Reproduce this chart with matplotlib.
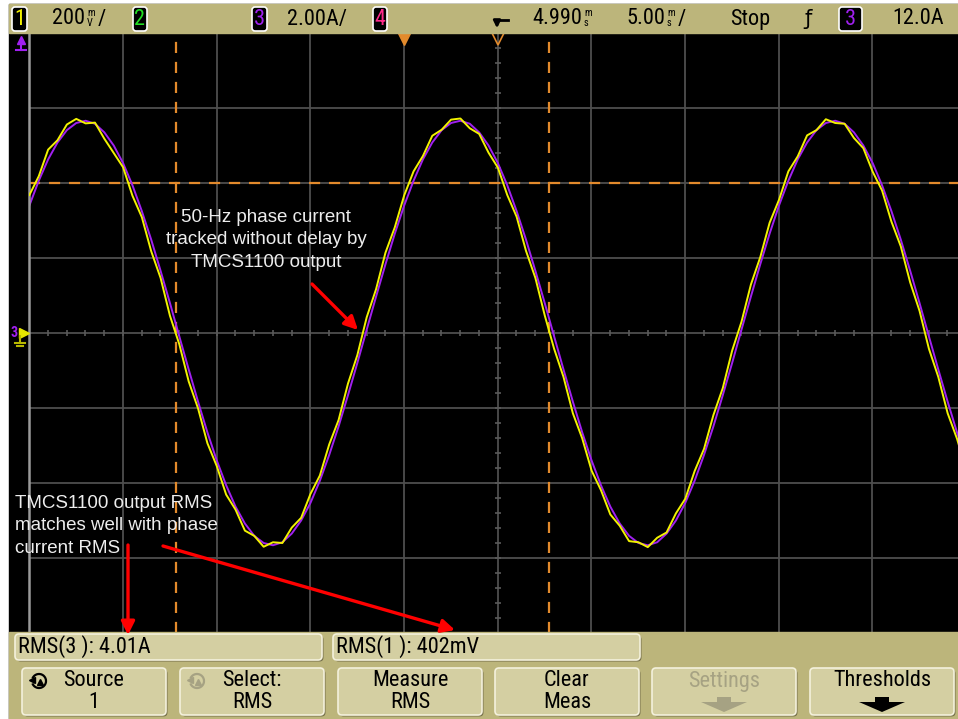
import matplotlib.pyplot as plt
import matplotlib.patches as mpatches
import numpy as np

# scope settings
time_per_div = 5.0      # ms/div
delay = 4.990           # ms at screen centre
ch3_scale = 2.0         # A/div
ch1_scale = 200.0       # mV/div
trig_level = 4.0        # A (orange dashed line)
cursor_times = [-12.18, 7.73]   # ms, orange dashed verticals

# samples every 0.5 ms from -20 ms to 30 ms
t_ms = np.arange(101) * 0.5 - 20.0

# ch3 : phase current (A), purple
ch3_amps = [3.40, 4.06, 4.63, 5.08, 5.41, 5.60, 5.66, 5.58, 5.35, 5.00,
            4.53, 3.94, 3.25, 2.49, 1.66, 0.80, -0.09, -0.97, -1.83, -2.65,
            -3.40, -4.06, -4.63, -5.08, -5.41, -5.60, -5.66, -5.58, -5.35, -5.00,
            -4.53, -3.94, -3.25, -2.49, -1.66, -0.80, 0.09, 0.97, 1.83, 2.65,
            3.40, 4.06, 4.63, 5.08, 5.41, 5.60, 5.66, 5.58, 5.35, 5.00,
            4.53, 3.94, 3.25, 2.49, 1.66, 0.80, -0.09, -0.97, -1.83, -2.65,
            -3.40, -4.06, -4.63, -5.08, -5.41, -5.60, -5.66, -5.58, -5.35, -5.00,
            -4.53, -3.94, -3.25, -2.49, -1.66, -0.80, 0.09, 0.97, 1.83, 2.65,
            3.40, 4.06, 4.63, 5.08, 5.41, 5.60, 5.66, 5.58, 5.35, 5.00,
            4.53, 3.94, 3.25, 2.49, 1.66, 0.80, -0.09, -0.97, -1.83, -2.65,
            -3.40]

# ch1 : TMCS1100 output (mV), yellow, noisy
ch1_mv = [368, 418, 489, 514, 556, 571, 559, 561, 518, 480,
          442, 366, 309, 218, 147, 46, -30, -129, -201, -294,
          -355, -431, -471, -527, -541, -570, -558, -560, -519, -493,
          -429, -380, -297, -232, -135, -59, 42, 117, 214, 282,
          367, 431, 472, 526, 542, 569, 572, 546, 531, 481,
          441, 368, 310, 219, 147, 47, -42, -117, -214, -281,
          -367, -419, -484, -514, -555, -558, -571, -546, -532, -481,
          -442, -368, -309, -219, -147, -47, 30, 129, 202, 294,
          355, 431, 471, 527, 541, 570, 560, 558, 520, 493,
          430, 380, 297, 231, 135, 59, -42, -117, -214, -282,
          -367]

top_labels = ["200", "2.00A/", "4.990", "5.00", "Stop", "12.0A"]
rms_labels = ["RMS(3 ): 4.01A", "RMS(1 ): 402mV"]
buttons = [("Source", "1"), ("Select:", "RMS"), ("Measure", "RMS"),
           ("Clear", "Meas"), ("Settings", ""), ("Thresholds", "")]

narrow = ['Roboto Condensed', 'Liberation Sans Narrow', 'Roboto', 'DejaVu Sans']
arial = ['Liberation Sans', 'DejaVu Sans']
fs = 16

W, H = 958, 719
fig = plt.figure(figsize=(W / 100, H / 100), dpi=100)
fig.patch.set_facecolor('white')

# background (pixel coords)
bg = fig.add_axes([0, 0, 1, 1], zorder=0)
bg.set_xlim(0, W); bg.set_ylim(H, 0); bg.axis('off')
bg.add_patch(mpatches.Rectangle((9, 4), W - 9, H - 4, color='black'))

# scope screen
gx0, gx1, gy0, gy1 = 29.2, 966.2, 33, 633
ax = fig.add_axes([gx0 / W, 1 - gy1 / H, (gx1 - gx0) / W, (gy1 - gy0) / H], zorder=1)
ax.set_facecolor('black')
ax.set_xlim(delay - 5 * time_per_div, delay + 5 * time_per_div)
ax.set_ylim(-4 * ch3_scale, 4 * ch3_scale)
ax.set_xticks(delay + time_per_div * np.arange(-5, 6))
ax.set_yticks(ch3_scale * np.arange(-4, 5))
ax.grid(True, color='#4e4e4e', lw=1.3)
ax.tick_params(length=0, labelbottom=False, labelleft=False)
for s in ['top', 'right', 'bottom']:
    ax.spines[s].set_visible(False)
ax.spines['left'].set_color('#9a9a9a')
ax.spines['left'].set_linewidth(1.8)

# minor ticks on the centre lines
mt = delay + np.arange(-25, 25.01, 1.0)
ax.plot(mt, np.zeros_like(mt), ls='none', marker='|', ms=5, color='#5a5a5a', mew=1.2)
mv = np.arange(-8, 8.01, 0.4)
ax.plot(np.full_like(mv, delay), mv, ls='none', marker='_', ms=5, color='#5a5a5a', mew=1.2)

orange = '#E38A2C'
ax.axhline(trig_level, color=orange, lw=1.6, dashes=(5, 4))
for ct in cursor_times:
    ax.axvline(ct, color=orange, lw=1.6, dashes=(5, 4))

ax.plot(t_ms, ch3_amps, color='#A020F0', lw=1.4)

ax2 = ax.twinx()
ax2.set_ylim(-4 * ch1_scale, 4 * ch1_scale)
ax2.patch.set_alpha(0)
ax2.axis('off')
ax2.plot(t_ms, ch1_mv, color='#F2F200', lw=1.4)

# top markers: trigger point and delay reference
ax.plot([0], [7.85], marker='v', ms=8, color=orange, clip_on=False)
ax.plot([delay], [7.85], marker='v', ms=8, mfc='none', mec=orange, mew=1.2, clip_on=False)

# overlay (pixel coords)
ov = fig.add_axes([0, 0, 1, 1], zorder=3)
ov.set_xlim(0, W); ov.set_ylim(H, 0); ov.axis('off')
ov.patch.set_alpha(0)

beige = '#BCB57B'
face = '#D4CFA2'
ov.add_patch(mpatches.Rectangle((9, 4), W - 9, 29, color=beige))
ov.add_patch(mpatches.Rectangle((9, 632), W - 9, H - 632, color=beige))

def chan_box(x0, x1, label, col):
    ov.add_patch(mpatches.FancyBboxPatch((x0, 7), x1 - x0, 24,
                 boxstyle='round,pad=0,rounding_size=3', fc='black', ec='white', lw=1.2))
    ov.text((x0 + x1) / 2, 19.5, label, color=col, fontsize=fs, family=narrow,
            ha='center', va='center')

chan_box(12, 27, "1", '#F2F200')
chan_box(133, 147, "2", '#22DD22')
chan_box(252, 267, "3", '#A020F0')
chan_box(373, 387, "4", '#FF2A8A')
chan_box(839, 862, "3", '#A020F0')

def value_with_unit(x, num, top, bot, slash):
    t = ov.text(x, 19, num, fontsize=fs, family=narrow, va='center')
    ov.annotate(top, xy=(1, 0.5), xycoords=t, xytext=(1.5, 0.5), textcoords='offset points',
                fontsize=7.5, family=narrow, ha='left', va='bottom')
    ov.annotate(bot, xy=(1, 0.5), xycoords=t, xytext=(1.5, 0.5), textcoords='offset points',
                fontsize=7.5, family=narrow, ha='left', va='top')
    if slash:
        ov.annotate("/", xy=(1, 0.5), xycoords=t, xytext=(9, 0), textcoords='offset points',
                    fontsize=fs, family=narrow, ha='left', va='center')

value_with_unit(52, top_labels[0], "m", "V", True)
ov.text(287, 19, top_labels[1], fontsize=fs, family=narrow, va='center')
value_with_unit(532, top_labels[2], "m", "s", False)
value_with_unit(626, top_labels[3], "m", "s", True)
ov.text(730, 19, top_labels[4], fontsize=fs, family=narrow, va='center')
ov.text(808, 19, "\u0192", fontsize=15, family=['DejaVu Sans'], va='center', ha='center')
ov.text(892, 19, top_labels[5], fontsize=fs, family=narrow, va='center')

# timebase reference symbol
ov.plot([497, 508], [20, 20], color='black', lw=2)
ov.annotate('', xy=(497, 31), xytext=(497, 19),
            arrowprops=dict(arrowstyle='-|>', color='black', lw=2, mutation_scale=10))

# ch3 trigger level off-screen marker (top left)
ov.plot([21], [40], marker='^', ms=6, color='#A020F0')
ov.plot([21, 21], [40, 50], color='#A020F0', lw=1.5)
ov.plot([16, 26], [50, 50], color='#A020F0', lw=1.5)

# ground markers at the centre line
ov.text(14, 333, "3", color='#A020F0', fontsize=10, family=narrow, ha='center', va='center',
        fontweight='bold')
ov.plot([24], [333], marker='>', ms=7, color='#E6E600')
ov.plot([20, 20], [336, 343], color='#B8B800', lw=1.5)
ov.plot([15, 25], [343, 343], color='#B8B800', lw=1.5)
ov.plot([17, 23], [346, 346], color='#B8B800', lw=1.5)

# measurement result boxes
def raised(x0, y0, w, h, fc):
    ov.add_patch(mpatches.FancyBboxPatch((x0 + 1.5, y0 + 1.5), w, h,
                 boxstyle='round,pad=0,rounding_size=4', fc='#77714c', ec='none'))
    ov.add_patch(mpatches.FancyBboxPatch((x0, y0), w, h,
                 boxstyle='round,pad=0,rounding_size=4', fc=fc, ec='#F4F1DC', lw=1.2))

raised(15, 634, 307, 26, face)
raised(333, 634, 307, 26, face)
ov.text(18, 647, rms_labels[0], fontsize=fs, family=narrow, va='center')
ov.text(336, 647, rms_labels[1], fontsize=fs, family=narrow, va='center')

# soft-key buttons
bx = [22, 180, 338, 495, 652, 810]
for i, (l1, l2) in enumerate(buttons):
    raised(bx[i], 668, 144, 47, face)
    cx = bx[i] + 72
    col = '#A6A283' if l1 == "Settings" else 'black'
    ov.text(cx, 681, l1, fontsize=fs, family=narrow, ha='center', va='center', color=col)
    if l2:
        ov.text(cx, 703, l2, fontsize=fs, family=narrow, ha='center', va='center', color=col)

def down_arrow(cx, col):
    ov.add_patch(mpatches.Polygon([(cx - 7, 697), (cx + 7, 697), (cx + 7, 702), (cx + 23, 702),
                                   (cx, 712), (cx - 23, 702), (cx - 7, 702)], closed=True,
                                  fc=col, ec='none'))

down_arrow(724, '#A6A283')
down_arrow(882, 'black')

def rot_icon(cx, cy, col):
    ov.add_patch(mpatches.Arc((cx, cy), 14, 14, theta1=200, theta2=520, color=col, lw=1.6))
    ov.plot([cx - 7], [cy - 1], marker='<', ms=5, color=col)
    ov.plot([cx + 1], [cy + 1], marker='^', ms=5, color=col)

rot_icon(39, 681, 'black')
rot_icon(197, 681, '#A6A283')

# annotations
txt = '#EDEDED'
ov.text(266, 240, "50-Hz phase current\ntracked without delay by\nTMCS1100 output",
        color=txt, fontsize=13.5, family=arial, ha='center', va='center', linespacing=1.45)
ov.text(15, 526, "TMCS1100 output RMS\nmatches well with phase\ncurrent RMS",
        color=txt, fontsize=13.5, family=arial, ha='left', va='center', linespacing=1.45)

red = '#FF0000'
arrow_kw = dict(arrowstyle='-|>', color=red, lw=2.4, mutation_scale=20, shrinkA=0, shrinkB=0)
ov.annotate('', xy=(358, 330), xytext=(312, 284), arrowprops=arrow_kw)
ov.annotate('', xy=(128, 635), xytext=(128, 545), arrowprops=arrow_kw)
ov.annotate('', xy=(455, 630), xytext=(163, 546), arrowprops=arrow_kw)

fig.savefig('out.png', dpi=100, facecolor='white')
